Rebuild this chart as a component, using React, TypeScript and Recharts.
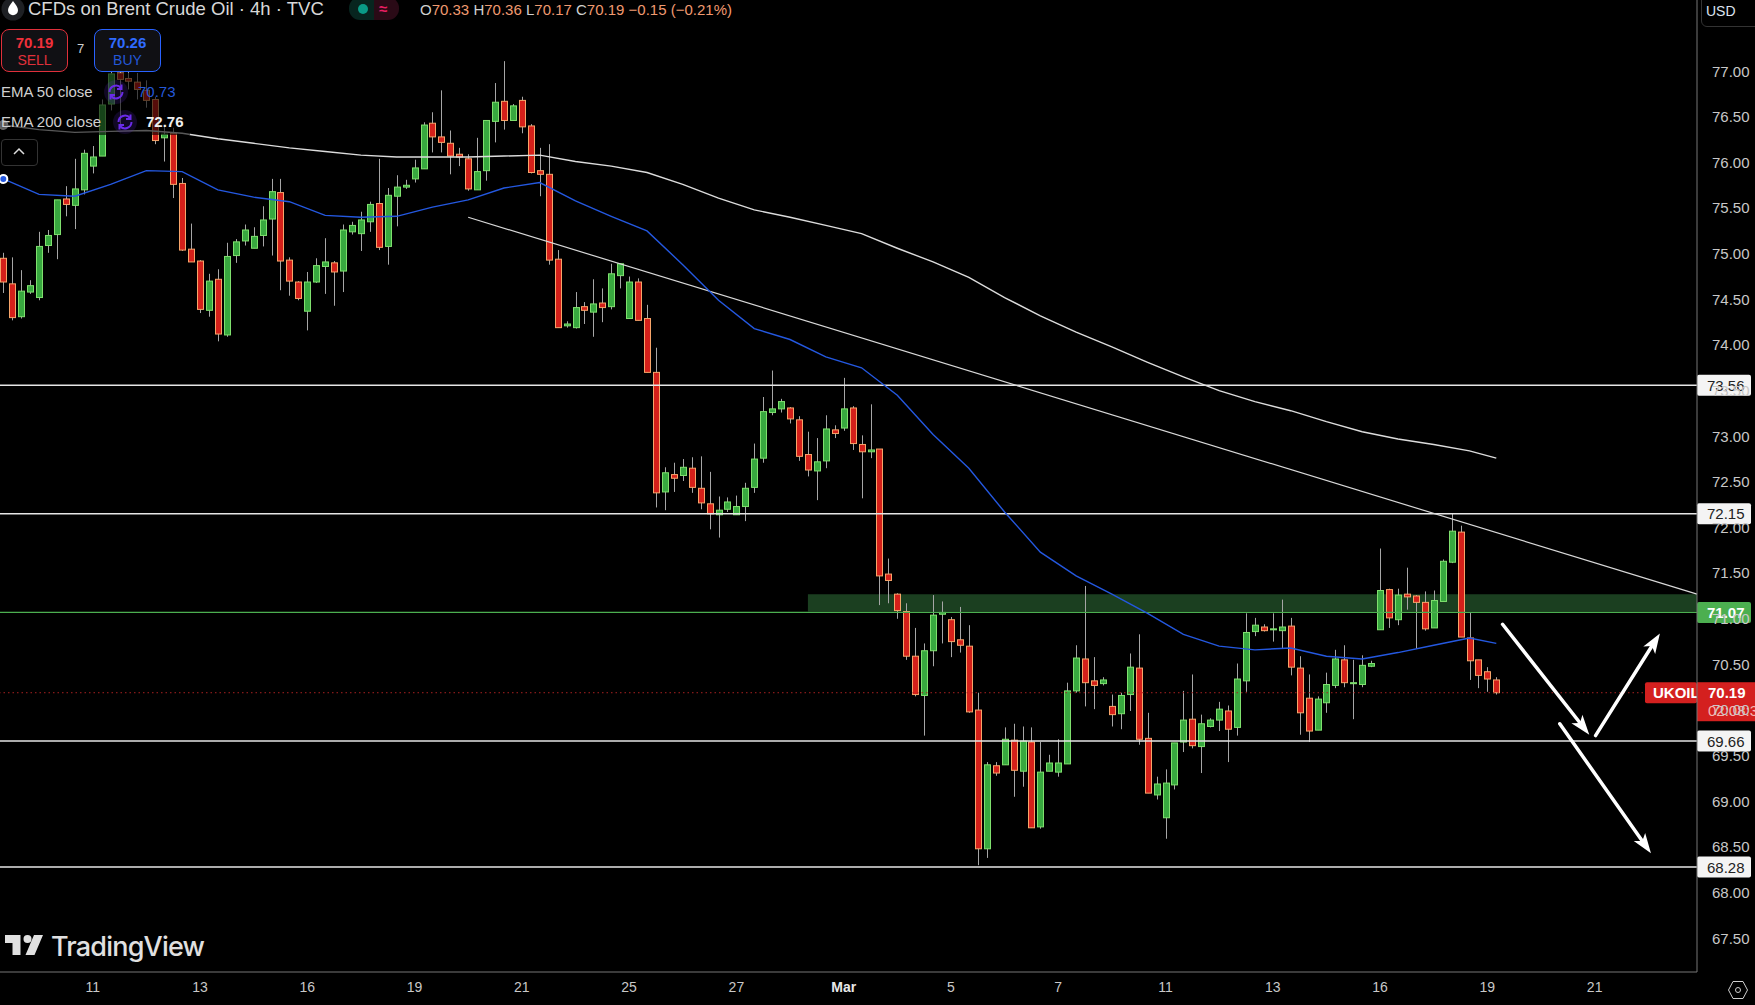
import { ComposedChart, Bar, Line, XAxis, YAxis, ReferenceLine, ReferenceArea } from 'recharts';

const opens = [74.95,74.67,74.31,74.58,74.52,75.09,75.21,75.60,75.53,75.70,75.96,76.07,76.64,76.98,76.92,76.88,76.79,76.69,76.27,76.32,75.77,75.05,74.92,74.38,74.72,74.11,74.98,75.14,75.06,75.20,75.38,75.67,74.93,74.69,74.37,74.69,74.86,74.90,74.81,75.24,75.22,75.35,75.55,75.08,75.63,75.73,75.82,75.93,76.43,76.28,76.21,76.09,76.04,75.70,75.91,76.45,76.67,76.46,76.68,76.40,75.91,75.87,74.94,74.21,74.19,74.42,74.36,74.46,74.42,74.76,74.29,74.69,74.29,73.70,72.39,72.58,72.57,72.65,72.43,72.26,72.14,72.20,72.14,72.23,72.44,72.76,73.26,73.30,73.31,73.18,72.80,72.62,72.73,73.07,73.09,73.31,72.91,72.83,72.86,71.49,71.27,71.08,70.59,70.16,70.65,71.05,70.99,70.77,70.70,70.00,68.48,69.39,69.40,69.67,69.33,69.65,68.72,69.33,69.32,69.41,70.21,70.56,70.32,70.29,70.04,69.96,70.17,70.46,69.69,69.07,68.82,69.18,69.65,69.90,69.60,69.82,69.89,69.99,69.81,70.32,70.86,70.91,70.88,70.87,70.92,70.46,70.13,69.78,70.08,70.27,70.55,70.29,70.28,70.48,70.88,71.32,70.99,71.27,71.25,71.18,70.90,71.19,71.62,71.95,70.79,70.55,70.42,70.33];
const highs = [75.01,74.96,74.82,74.71,75.24,75.26,75.59,75.74,76.04,76.14,76.18,76.69,77.04,77.00,76.99,76.98,76.90,76.72,76.41,76.38,75.83,75.33,74.93,74.78,74.83,75.12,75.16,75.32,75.29,75.52,75.82,75.82,74.96,74.70,74.80,74.95,75.17,74.92,75.32,75.35,75.46,75.57,76.04,75.72,75.86,75.81,76.03,76.44,76.55,76.79,76.35,76.16,76.09,76.27,76.46,76.87,77.11,76.64,76.72,76.42,76.16,76.20,75.04,74.26,74.58,74.47,74.72,74.62,74.89,74.89,74.75,74.73,74.44,73.97,72.66,72.71,72.75,72.77,72.78,72.61,72.34,72.33,72.35,72.49,72.92,73.43,73.72,73.41,73.32,73.22,73.05,72.98,73.23,73.12,73.64,73.33,73.01,73.35,72.86,71.66,71.28,71.17,70.90,70.73,71.26,71.19,71.02,71.13,70.93,70.19,69.43,69.43,69.81,69.85,69.82,69.81,69.65,69.51,69.68,70.30,70.71,71.36,70.58,70.36,70.17,70.19,70.62,70.83,69.97,69.27,69.35,69.64,70.21,70.39,69.95,69.91,70.09,70.05,70.51,71.06,71.01,70.94,71.06,71.21,71.01,70.59,70.39,70.15,70.41,70.66,70.71,70.55,70.60,70.54,71.77,71.33,71.33,71.56,71.26,71.30,71.31,71.65,72.15,72.02,71.07,70.55,70.47,70.36];
const lows = [74.57,74.27,74.29,74.56,74.49,75.01,74.94,75.41,75.27,75.65,75.88,76.07,76.57,76.38,76.80,76.69,76.60,76.20,76.01,75.61,75.03,74.91,74.35,74.31,74.04,74.09,74.90,75.09,75.06,75.08,74.98,74.60,74.54,74.49,74.16,74.68,74.56,74.43,74.58,75.21,75.03,75.24,75.04,74.88,75.30,75.71,75.78,75.93,76.11,76.11,75.87,75.96,75.69,75.70,75.80,76.22,76.36,76.46,76.32,75.88,75.63,74.88,74.19,74.19,74.18,74.23,74.09,74.25,74.39,74.62,74.29,74.27,73.70,72.22,72.19,72.39,72.51,72.38,72.20,71.98,71.89,72.17,72.14,72.07,72.38,72.71,73.23,73.26,73.14,72.73,72.56,72.30,72.65,72.98,73.06,72.85,72.32,72.76,71.15,71.17,71.00,70.55,70.15,69.72,70.48,70.73,70.58,70.63,69.97,68.30,68.38,69.28,69.40,69.05,69.16,68.71,68.70,69.33,69.27,69.41,70.19,70.04,70.01,70.27,69.82,69.79,69.99,69.62,69.09,69.02,68.59,69.13,69.54,69.58,69.31,69.81,69.77,69.43,69.72,70.20,70.81,70.86,70.75,70.68,70.38,69.73,69.65,69.78,69.97,70.24,70.25,69.90,70.25,70.47,70.88,70.90,70.93,71.10,70.67,70.87,70.90,71.19,71.61,70.80,70.33,70.24,70.20,70.17];
const closes = [74.69,74.30,74.59,74.65,75.08,75.20,75.59,75.54,75.71,76.10,76.06,76.63,76.97,76.91,76.89,76.80,76.68,76.24,76.31,75.76,75.04,74.91,74.39,74.70,74.12,74.97,75.13,75.26,75.19,75.37,75.68,74.92,74.70,74.51,74.69,74.87,74.91,74.80,75.26,75.31,75.37,75.54,75.07,75.64,75.73,75.75,75.94,76.41,76.28,76.22,76.07,76.06,75.71,75.90,76.46,76.66,76.46,76.62,76.39,75.89,75.87,74.93,74.19,74.23,74.41,74.38,74.45,74.41,74.78,74.89,74.69,74.27,73.70,72.38,72.60,72.54,72.66,72.44,72.27,72.15,72.19,72.28,72.23,72.43,72.75,73.27,73.30,73.38,73.19,72.78,72.63,72.72,73.08,73.03,73.30,72.92,72.83,72.85,71.47,71.42,71.09,70.59,70.17,70.65,71.04,71.07,70.75,70.71,69.98,68.48,69.40,69.31,69.68,69.34,69.66,68.71,69.32,69.42,69.42,70.21,70.57,70.30,70.27,70.33,69.95,70.16,70.47,69.68,69.09,69.19,69.20,69.64,69.89,69.61,69.85,69.89,70.01,69.79,70.34,70.85,70.93,70.87,70.89,70.91,70.47,69.97,69.77,70.12,70.28,70.56,70.30,70.30,70.49,70.51,71.31,71.01,71.26,71.24,71.18,70.89,71.20,71.63,71.96,70.80,70.54,70.38,70.34,70.19];

// EMA readings, every fourth candle
const emaBars = [0,4,8,12,16,20,24,28,32,36,40,44,48,52,56,60,64,68,72,76,80,84,88,92,96,100,104,108,112,116,120,124,128,132,136,140,144,148,152,156,160,164,167];
const ema50 = [75.82,75.65,75.63,75.76,75.91,75.90,75.70,75.62,75.57,75.42,75.40,75.41,75.51,75.59,75.72,75.78,75.58,75.41,75.25,74.88,74.49,74.18,74.06,73.87,73.75,73.45,73.02,72.65,72.17,71.73,71.47,71.27,71.06,70.83,70.70,70.66,70.68,70.59,70.56,70.63,70.71,70.79,70.73];
const ema200 = [76.41,76.36,76.33,76.34,76.35,76.32,76.26,76.21,76.16,76.12,76.08,76.06,76.06,76.06,76.07,76.08,76.01,75.96,75.89,75.76,75.61,75.48,75.40,75.31,75.22,75.06,74.91,74.74,74.52,74.32,74.14,73.98,73.81,73.65,73.50,73.38,73.28,73.16,73.05,72.97,72.91,72.84,72.76];

const xTicks = [10,22,34,46,58,70,82,94,106,118,130,142,154,166,178];
const xLabels = ['11','13','16','19','21','25','27','Mar','5','7','11','13','16','19','21'];
const yTicks = [67.5,68,68.5,69,69.5,70,70.5,71,71.5,72,72.5,73,73.5,74,74.5,75,75.5,76,76.5,77];

const levels = [73.56, 72.15, 69.66, 68.28];
const support = 71.07;
const lastPrice = 70.19;

// [bar, price] start and end of the hand drawn arrows
const arrows = [
  [167.7, 70.94, 177.4, 69.73],
  [178.1, 69.72, 185.3, 70.84],
  [174.1, 69.85, 184.3, 68.43],
];

const FONT = '"Liberation Sans", Arial, sans-serif';

const emaAt = (list: number[], bar: number) => {
  const k = emaBars.indexOf(bar);
  return k < 0 ? null : list[k];
};

const data = opens.map((open, i) => ({
  bar: i,
  open,
  high: highs[i],
  low: lows[i],
  close: closes[i],
  range: [lows[i], highs[i]],
  ema50: emaAt(ema50, i),
  ema200: emaAt(ema200, i),
}));

const Candle = (props: any) => {
  const { x, y, width, height, payload } = props;
  const top = Math.min(y, y + height);
  const h = Math.abs(height);
  const cx = Math.round(x + width / 2) + 0.5;
  const perPrice = h / (payload.high - payload.low);
  const yOf = (p: number) => top + (payload.high - p) * perPrice;
  const up = payload.close >= payload.open;
  const bodyTop = yOf(Math.max(payload.open, payload.close));
  const bodyH = Math.max(Math.abs(payload.open - payload.close) * perPrice, 1);
  return (
    <g>
      <line x1={cx} x2={cx} y1={top} y2={top + h} stroke="#a6a6a6" strokeWidth={1} />
      <rect
        x={cx - 3}
        y={bodyTop}
        width={6}
        height={bodyH}
        fill={up ? '#38a83f' : '#d4201a'}
        stroke={up ? '#7fe06e' : '#f7a56a'}
        strokeWidth={1}
      />
    </g>
  );
};

const ArrowLine = (props: any) => {
  const { x1, y1, x2, y2 } = props;
  const a = Math.atan2(y2 - y1, x2 - x1);
  const px = (d: number, s: number) => x2 - d * Math.cos(a) - s * Math.sin(a);
  const py = (d: number, s: number) => y2 - d * Math.sin(a) + s * Math.cos(a);
  return (
    <g>
      <line x1={x1} y1={y1} x2={px(12, 0)} y2={py(12, 0)} stroke="#fff" strokeWidth={3.5} strokeLinecap="round" />
      <polygon
        fill="#fff"
        points={`${x2},${y2} ${px(20, 7)},${py(20, 7)} ${px(15, 0)},${py(15, 0)} ${px(20, -7)},${py(20, -7)}`}
      />
    </g>
  );
};

const Badge = ({ viewBox, text, fill, color, bold }: any) => {
  const y = viewBox.y;
  const left = viewBox.x + viewBox.width;
  return (
    <g>
      <rect x={left} y={y - 10.5} width={54} height={21} rx={2} fill={fill} />
      <text x={left + 10} y={y + 5.5} fontFamily={FONT} fontSize={15} fontWeight={bold ? 700 : 400} fill={color}>
        {text}
      </text>
    </g>
  );
};

const LastTag = ({ viewBox }: any) => {
  const y = viewBox.y;
  const left = viewBox.x + viewBox.width;
  return (
    <g>
      <rect x={left - 52} y={y - 10.5} width={52} height={21} rx={2} fill="#d4201f" />
      <text x={left - 44} y={y + 5.5} fontFamily={FONT} fontSize={15} fontWeight={700} fill="#fff">
        UKOIL
      </text>
      <rect x={left} y={y - 10.5} width={58} height={39} fill="#d4201f" />
      <text x={left + 11} y={y + 5.5} fontFamily={FONT} fontSize={15} fontWeight={700} fill="#fff">
        {lastPrice.toFixed(2)}
      </text>
      <text x={left + 11} y={y + 23} fontFamily={FONT} fontSize={15} fill="#f5b5b0">
        02:08:33
      </text>
    </g>
  );
};

const TimeTick = ({ x, y, payload }: any) => {
  const label = xLabels[xTicks.indexOf(payload.value)];
  return (
    <text
      x={x}
      y={y + 12}
      textAnchor="middle"
      fontFamily={FONT}
      fontSize={14}
      fontWeight={label === 'Mar' ? 700 : 400}
      fill={label === 'Mar' ? '#e8e8e8' : '#c8c8c8'}
    >
      {label}
    </text>
  );
};

const text = (extra: any) => ({
  position: 'absolute' as const,
  fontFamily: FONT,
  whiteSpace: 'nowrap' as const,
  ...extra,
});

const SyncIcon = ({ left, top }: any) => (
  <svg style={{ position: 'absolute', left, top }} width={24} height={24} viewBox="0 0 24 24">
    <circle cx={12} cy={12} r={12} fill="#6a2fe8" opacity={0.16} />
    <path d="M5.5 12a6.5 6.5 0 0 1 11.5-4M18.5 12a6.5 6.5 0 0 1-11.5 4" fill="none" stroke="#6a2be8" strokeWidth={2} />
    <path d="M17.5 4.5v4.5h-4.5M6.5 19.5V15h4.5" fill="none" stroke="#6a2be8" strokeWidth={2} />
  </svg>
);

const Header = () => (
  <div style={{ position: 'absolute', left: 0, top: 0, width: 1755, height: 1005, pointerEvents: 'none' }}>
    <div style={{ position: 'absolute', left: 0, top: 73, width: 190, height: 62, background: 'rgba(0,0,0,0.6)' }} />
    <svg style={{ position: 'absolute', left: 1, top: -3 }} width={24} height={24} viewBox="0 0 24 24">
      <circle cx={12} cy={12} r={11.5} fill="#1e2024" />
      <path d="M12 4c3 4 5 6.5 5 9.3a5 5 0 0 1-10 0C7 10.500 9 8 12 4z" fill="#fff" />
    </svg>
    <div style={text({ left: 28, top: -2, fontSize: 18.5, color: '#d8d8d8' })}>CFDs on Brent Crude Oil · 4h · TVC</div>
    <div style={{ position: 'absolute', left: 349, top: -3, width: 25, height: 23, background: '#07251f', borderRadius: '11px 0 0 11px' }} />
    <div style={{ position: 'absolute', left: 374, top: -3, width: 25, height: 23, background: '#2a0a16', borderRadius: '0 11px 11px 0' }} />
    <div style={{ position: 'absolute', left: 358, top: 4, width: 10, height: 10, background: '#0a9a86', borderRadius: 5 }} />
    <div style={text({ left: 379, top: 0, fontSize: 15, color: '#e91e63', fontWeight: 700 })}>≈</div>
    <div style={text({ left: 420, top: 1, fontSize: 15, color: '#f09a70' })}>
      <span style={{ color: '#cfcfcf' }}>O</span>70.33 <span style={{ color: '#cfcfcf' }}>H</span>70.36{' '}
      <span style={{ color: '#cfcfcf' }}>L</span>70.17 <span style={{ color: '#cfcfcf' }}>C</span>70.19 −0.15 (−0.21%)
    </div>

    <div style={{ position: 'absolute', left: 1, top: 29, width: 65, height: 41, background: '#101014', border: '1.500px solid #e0303b', borderRadius: 8 }} />
    <div style={text({ left: 1, width: 67, top: 34, fontSize: 15, fontWeight: 700, color: '#f0303b', textAlign: 'center' })}>70.19</div>
    <div style={text({ left: 1, width: 67, top: 52, fontSize: 14, color: '#e0303b', textAlign: 'center' })}>SELL</div>
    <div style={text({ left: 77, top: 41, fontSize: 13, color: '#cfcfcf' })}>7</div>
    <div style={{ position: 'absolute', left: 94, top: 29, width: 65, height: 41, background: '#101014', border: '1.500px solid #2962ff', borderRadius: 8 }} />
    <div style={text({ left: 94, width: 67, top: 34, fontSize: 15, fontWeight: 700, color: '#2f6bff', textAlign: 'center' })}>70.26</div>
    <div style={text({ left: 94, width: 67, top: 52, fontSize: 14, color: '#2458d8', textAlign: 'center' })}>BUY</div>

    <div style={text({ left: 1, top: 83, fontSize: 15, color: '#d0d0d0' })}>EMA 50 close</div>
    <SyncIcon left={104} top={80} />
    <div style={text({ left: 138, top: 83, fontSize: 15, color: '#2458d8' })}>70.73</div>
    <div style={text({ left: 1, top: 113, fontSize: 15, color: '#d0d0d0' })}>EMA 200 close</div>
    <SyncIcon left={113} top={110} />
    <div style={text({ left: 146, top: 113, fontSize: 15, fontWeight: 700, color: '#f0f0f0' })}>72.76</div>
    <div style={{ position: 'absolute', left: 1, top: 139, width: 35, height: 25, border: '1px solid #333', borderRadius: 4 }} />
    <svg style={{ position: 'absolute', left: 12, top: 147 }} width={14} height={9} viewBox="0 0 14 9">
      <path d="M2 7l5-5 5 5" fill="none" stroke="#ddd" strokeWidth={1.5} />
    </svg>

    <svg style={{ position: 'absolute', left: 5, top: 935 }} width={40} height={21} viewBox="0 0 40 21">
      <path d="M0 0H15.500V20H7.500V8H0z M29 0H38L29.500 20H20.500z" fill="#e0e0e0" />
      <circle cx={22.500} cy={4} r={4} fill="#e0e0e0" />
    </svg>
    <div style={text({ left: 51, top: 930, fontSize: 27, fontWeight: 500, fontFamily: 'Inter, sans-serif', letterSpacing: -0.8, color: '#e0e0e0' })}>TradingView</div>

    <div style={{ position: 'absolute', left: 1701, top: -1, width: 60, height: 26, border: '1px solid #333', borderRadius: '0 0 0 6px' }} />
    <div style={text({ left: 1706, top: 3, fontSize: 14, color: '#dce3f0' })}>USD</div>
    <svg style={{ position: 'absolute', left: 1728, top: 980 }} width={20} height={20} viewBox="0 0 20 20">
      <path d="M5 1.500h10l4.500 8.500-4.500 8.500H5L.5 10z" fill="none" stroke="#cfcfcf" strokeWidth={1} />
      <circle cx={10} cy={10} r={2.500} fill="none" stroke="#cfcfcf" strokeWidth={1} />
    </svg>
  </div>
);

export default function App() {
  return (
    <div style={{ position: 'fixed', left: 0, top: 0, width: 1755, height: 1005, background: '#000', overflow: 'hidden' }}>
      <ComposedChart width={1755} height={1005} data={data} margin={{ top: 0, right: 0, bottom: 0, left: 0 }}>
        <XAxis
          dataKey="bar"
          type="number"
          domain={[-0.37, 189.45]}
          allowDataOverflow
          ticks={xTicks}
          tick={<TimeTick />}
          tickLine={false}
          axisLine={{ stroke: '#777' }}
          height={33}
          interval={0}
        />
        <YAxis
          orientation="right"
          type="number"
          domain={[67.13, 77.78]}
          allowDataOverflow
          ticks={yTicks}
          interval={0}
          tickFormatter={(v: number) => v.toFixed(2)}
          tick={{ fill: '#c8c8c8', fontSize: 15, fontFamily: FONT }}
          tickLine={false}
          tickMargin={9}
          axisLine={{ stroke: '#777' }}
          width={58}
        />
        <ReferenceArea x1={90} x2={189.45} y1={71.08} y2={71.27} fill="#1b3f20" fillOpacity={1} stroke="none" ifOverflow="visible" />
        {levels.map((v) => (
          <ReferenceLine
            key={v}
            y={v}
            stroke="#e6e6e6"
            strokeWidth={1.5}
            label={{ content: (p: any) => <Badge viewBox={p.viewBox} text={v.toFixed(2)} fill="#f4f4f4" color="#222" /> }}
          />
        ))}
        <ReferenceLine
          y={support}
          stroke="#4caf50"
          strokeWidth={1.2}
          label={{ content: (p: any) => <Badge viewBox={p.viewBox} text={support.toFixed(2)} fill="#4caf50" color="#fff" bold /> }}
        />
        <ReferenceLine
          y={lastPrice}
          stroke="#a82020"
          strokeDasharray="1.500 3"
          label={{ content: (p: any) => <LastTag viewBox={p.viewBox} /> }}
        />
        <ReferenceLine segment={[{ x: 52, y: 75.4 }, { x: 189.45, y: 71.27 }]} stroke="#d8d8d8" strokeWidth={1.2} ifOverflow="visible" />
        <Line dataKey="ema200" stroke="#dcdcdc" strokeWidth={1.4} dot={false} connectNulls isAnimationActive={false} />
        <Line dataKey="ema50" stroke="#2458e0" strokeWidth={1.4} dot={false} connectNulls isAnimationActive={false} />
        <Bar dataKey="range" barSize={7} shape={<Candle />} isAnimationActive={false} />
        {arrows.map((a, i) => (
          <ReferenceLine
            key={i}
            segment={[{ x: a[0], y: a[1] }, { x: a[2], y: a[3] }]}
            shape={<ArrowLine />}
            ifOverflow="visible"
          />
        ))}
      </ComposedChart>
      <Header />
    </div>
  );
}
